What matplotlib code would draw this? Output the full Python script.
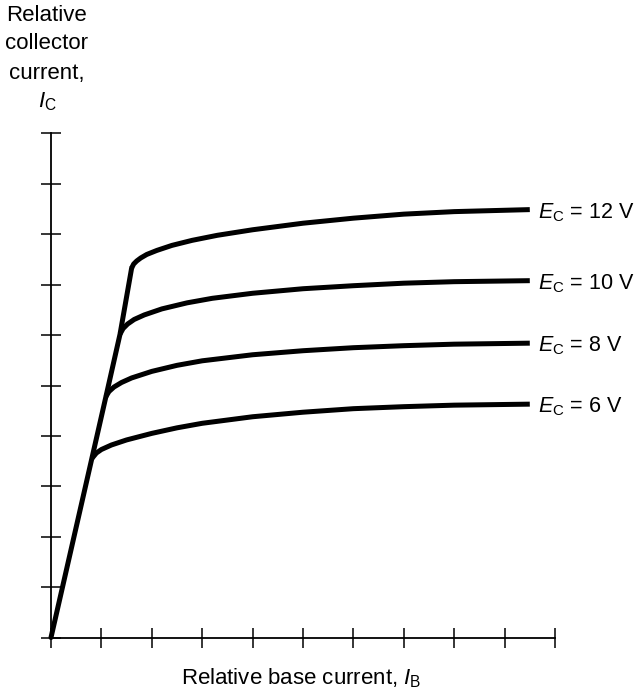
import matplotlib
matplotlib.use("Agg")
import matplotlib.pyplot as plt

plt.rcParams['font.family'] = ['Liberation Sans', 'DejaVu Sans']
plt.rcParams['mathtext.fontset'] = 'custom'
plt.rcParams['mathtext.rm'] = 'Liberation Sans'
plt.rcParams['mathtext.it'] = 'Liberation Sans:italic'

# rising (saturation) line, relative units
rise_ib = [0, 0.81, 1.09, 1.37, 1.60]
rise_ic = [0, 3.55, 4.78, 6.02, 7.33]

# collector curves
ib_6 = [0.81, 0.9, 1.0, 1.2, 1.5, 2.0, 2.5, 3.0, 4.0, 5.0, 6.0, 7.0, 8.0, 9.5]
ic_6 = [3.55, 3.66, 3.73, 3.82, 3.92, 4.05, 4.16, 4.25, 4.38, 4.47, 4.54, 4.58, 4.61, 4.63]

ib_8 = [1.09, 1.15, 1.25, 1.4, 1.6, 2.0, 2.5, 3.0, 4.0, 5.0, 6.0, 7.0, 8.0, 9.5]
ic_8 = [4.78, 4.88, 4.97, 5.06, 5.15, 5.28, 5.40, 5.49, 5.61, 5.69, 5.75, 5.79, 5.82, 5.84]

ib_10 = [1.37, 1.43, 1.52, 1.65, 1.85, 2.2, 2.7, 3.2, 4.0, 5.0, 6.0, 7.0, 8.0, 9.5]
ic_10 = [6.02, 6.13, 6.22, 6.31, 6.40, 6.52, 6.64, 6.73, 6.83, 6.92, 6.98, 7.03, 7.06, 7.08]

ib_12 = [1.60, 1.64, 1.70, 1.78, 1.90, 2.1, 2.4, 2.8, 3.3, 4.0, 5.0, 6.0, 7.0, 8.0, 9.5]
ic_12 = [7.33, 7.41, 7.47, 7.53, 7.60, 7.68, 7.78, 7.88, 7.98, 8.09, 8.22, 8.32, 8.40, 8.45, 8.49]

curves = [(ib_12, ic_12, '12'), (ib_10, ic_10, '10'), (ib_8, ic_8, '8'), (ib_6, ic_6, '6')]

W, H = 634, 692
fig = plt.figure(figsize=(W / 100, H / 100), dpi=100)
ax = fig.add_axes([51 / W, (H - 637.5) / H, 504 / W, 504 / H])

lw = 3.6
ax.plot(rise_ib, rise_ic, color='black', lw=lw, solid_capstyle='round',
        solid_joinstyle='round', clip_on=False)
for ib, ic, v in curves:
    ax.plot(ib, ic, color='black', lw=lw, solid_capstyle='butt',
            solid_joinstyle='round', clip_on=False)
    ax.text(9.66, ic[-1] - 0.17, r'$E_\mathrm{C}$ = ' + v + ' V', fontsize=15.5,
            ha='left', va='baseline')

ax.set_xlim(0, 10)
ax.set_ylim(0, 10)
ax.set_xticks(range(11))
ax.set_yticks(range(11))
ax.set_xticklabels([])
ax.set_yticklabels([])
ax.tick_params(direction='inout', length=13.7, width=1.1)
for s in ['top', 'right']:
    ax.spines[s].set_visible(False)
for s in ['left', 'bottom']:
    ax.spines[s].set_linewidth(1.3)

# axis titles
ax.text(2.58, -0.94, r'Relative base current, $I_\mathrm{B}$', fontsize=16,
        ha='left', va='baseline', clip_on=False)
ylab = [('Relative', 12.23), ('collector', 11.68), ('current,', 11.08)]
for t, y in ylab:
    ax.text(-0.08, y, t, fontsize=16, ha='center', va='baseline', clip_on=False)
ax.text(-0.08, 10.51, r'$I_\mathrm{C}$', fontsize=16, ha='center', va='baseline',
        clip_on=False)

fig.savefig('out.png', dpi=100)
